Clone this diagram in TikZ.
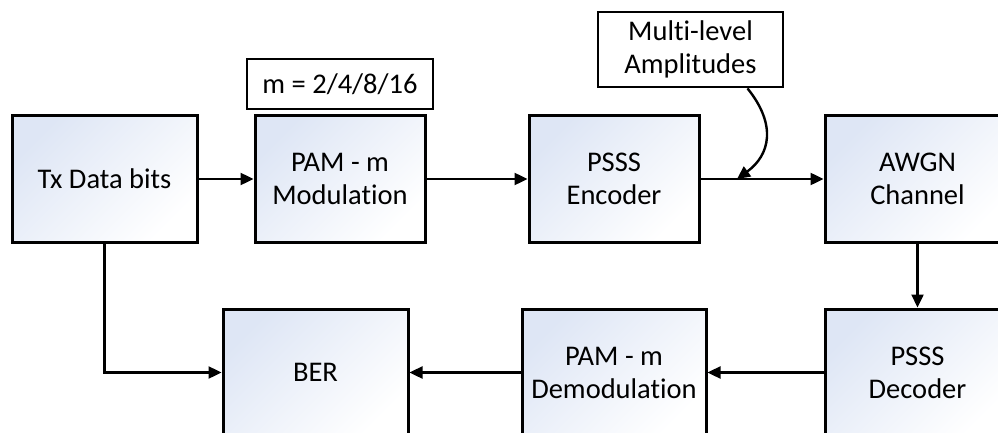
\documentclass[tikz,border=0pt]{standalone}
\usepackage{fontspec}
\setmainfont{Carlito}[Ligatures={NoCommon}]
\usetikzlibrary{arrows.meta,calc}
\definecolor{boxtint}{RGB}{222,230,245}
\tikzset{
  blk/.style={draw=black, line width=3pt, align=center, inner sep=0pt,
    top color=boxtint, bottom color=white, shading angle=45,
    font=\fontsize{28.5}{33}\selectfont},
  lbl/.style={draw=black, line width=2.8pt, fill=white, align=center, inner sep=0pt,
    font=\fontsize{28.5}{33}\selectfont},
  conn/.style={line width=2.4pt, -{Triangle[length=13pt,width=12pt]}},
}
\begin{document}
\begin{tikzpicture}[x=1pt,y=-1pt]
\useasboundingbox (0,0) rectangle (998,433);
\clip (0,0) rectangle (998,433);
\node[blk, minimum width=185, minimum height=126] (tx) at (104.5,179) {Tx Data bits};
\node[blk, minimum width=170, minimum height=126] (pam) at (340,179) {PAM - m\\Modulation};
\node[blk, minimum width=170, minimum height=126] (enc) at (614,179) {PSSS\\Encoder};
\node[blk, minimum width=185, minimum height=126] (awgn) at (917.5,179) {AWGN\\Channel};
\node[lbl, minimum width=186, minimum height=50] (mbox) at (340,84) {m = 2/4/8/16};
\node[lbl, minimum width=185, minimum height=75] (multi) at (690.5,49.5) {Multi-level\\Amplitudes};
\node[blk, minimum width=185, minimum height=127] (ber) at (315.5,372.5) {BER};
\node[blk, minimum width=184, minimum height=127] (demod) at (614,372.5) {PAM - m\\Demodulation};
\node[blk, minimum width=185, minimum height=127] (dec) at (917.5,372.5) {PSSS\\Decoder};
\coordinate (cs) at ($(multi.south)+(57,0)$);
\coordinate (jn) at (737,179);
\draw[conn] (tx.east) -- (pam.west);
\draw[conn] (pam.east) -- (enc.west);
\draw[conn] (enc.east) -- (awgn.west);
\draw[conn] (cs) .. controls (777,125) and (770,155) .. (jn);
\draw[conn] (awgn.south) -- (dec.north);
\draw[conn] (dec.west) -- (demod.east);
\draw[conn] (demod.west) -- (ber.east);
\draw[conn] (tx.south) |- (ber.west);
\end{tikzpicture}
\end{document}
